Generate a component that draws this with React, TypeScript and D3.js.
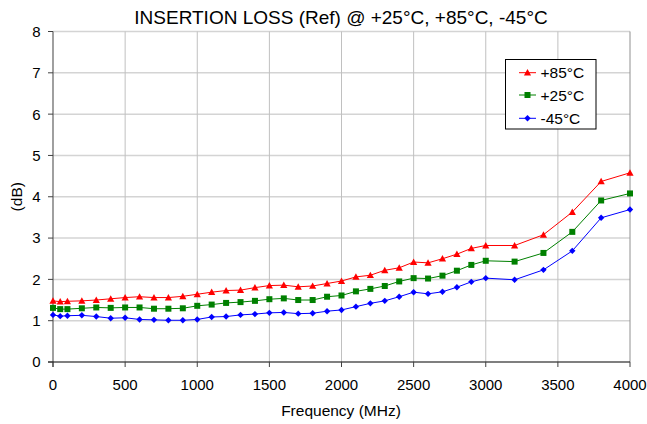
import React from "react";
import * as d3 from "d3";

const freqs = [0, 50, 100, 200, 300, 400, 500, 600, 700, 800, 900, 1000, 1100, 1200, 1300, 1400, 1500, 1600, 1700, 1800, 1900, 2000, 2100, 2200, 2300, 2400, 2500, 2600, 2700, 2800, 2900, 3000, 3200, 3400, 3600, 3800, 4000];

const loss85 = [1.48, 1.46, 1.47, 1.48, 1.50, 1.53, 1.56, 1.58, 1.56, 1.56, 1.59, 1.64, 1.69, 1.73, 1.74, 1.80, 1.85, 1.86, 1.82, 1.84, 1.90, 1.96, 2.06, 2.10, 2.22, 2.28, 2.42, 2.40, 2.50, 2.61, 2.75, 2.82, 2.82, 3.08, 3.63, 4.37, 4.58];
const loss25 = [1.31, 1.28, 1.28, 1.30, 1.32, 1.31, 1.32, 1.32, 1.29, 1.29, 1.30, 1.36, 1.39, 1.43, 1.45, 1.48, 1.52, 1.54, 1.50, 1.50, 1.58, 1.61, 1.71, 1.77, 1.84, 1.95, 2.03, 2.02, 2.09, 2.21, 2.35, 2.45, 2.43, 2.64, 3.15, 3.91, 4.08];
const lossM45 = [1.14, 1.11, 1.12, 1.13, 1.10, 1.06, 1.07, 1.03, 1.02, 1.01, 1.01, 1.03, 1.09, 1.10, 1.14, 1.16, 1.19, 1.20, 1.17, 1.18, 1.23, 1.26, 1.34, 1.42, 1.48, 1.58, 1.69, 1.65, 1.70, 1.81, 1.94, 2.03, 1.99, 2.23, 2.69, 3.49, 3.69];

const xTicks = [0, 500, 1000, 1500, 2000, 2500, 3000, 3500, 4000];
const yTicks = [0, 1, 2, 3, 4, 5, 6, 7, 8];

const seriesNames = ["+85°C", "+25°C", "-45°C"];
const seriesColors = ["#ff0000", "#008000", "#0000ff"];
const seriesShapes = ["triangle", "square", "diamond"];

const W = 647, H = 424;
const left = 53, right = 630, top = 31.5, bottom = 362;
const font = "Arial, 'Liberation Sans', sans-serif";

function Marker({ shape, x, y, color }: { shape: string; x: number; y: number; color: string }) {
  if (shape === "triangle") {
    const s = 3.6;
    return <path d={`M${x},${y - s}L${x + s},${y + s * 0.8}L${x - s},${y + s * 0.8}Z`} fill={color} />;
  }
  if (shape === "square") {
    const s = 3;
    return <rect x={x - s} y={y - s} width={2 * s} height={2 * s} fill={color} />;
  }
  const s = 3.2;
  return <path d={`M${x},${y - s}L${x + s},${y}L${x},${y + s}L${x - s},${y}Z`} fill={color} />;
}

export default function App() {
  const x = d3.scaleLinear().domain([0, 4000]).range([left, right]);
  const y = d3.scaleLinear().domain([0, 8]).range([bottom, top]);
  const data = [loss85, loss25, lossM45];
  const line = d3.line<number>().x((_, i) => x(freqs[i])).y((d) => y(d));

  return (
    <svg width={W} height={H} style={{ position: "absolute", left: 0, top: 0 }} fontFamily={font}>
      <rect width={W} height={H} fill="#fff" />
      {yTicks.slice(1).map((t) => (
        <line key={"h" + t} x1={left} x2={right} y1={y(t)} y2={y(t)} stroke="#d4d4d4" strokeWidth={1.5} />
      ))}
      {xTicks.slice(1).map((t) => (
        <line key={"v" + t} x1={x(t)} x2={x(t)} y1={top} y2={bottom} stroke={t === 4000 ? "#909090" : "#c0c0c0"} strokeWidth={1} />
      ))}
      {/* axes */}
      <line x1={left} x2={left} y1={top} y2={bottom + 5} stroke="#606060" strokeWidth={1.2} />
      <line x1={left - 5} x2={right} y1={bottom} y2={bottom} stroke="#000" strokeWidth={1.2} />
      {yTicks.map((t) => (
        <g key={"yt" + t}>
          <line x1={left - 5} x2={left} y1={y(t)} y2={y(t)} stroke="#404040" />
          <text x={left - 12.5} y={y(t)} dy="0.36em" textAnchor="end" fontSize={15}>{t}</text>
        </g>
      ))}
      {xTicks.map((t) => (
        <g key={"xt" + t}>
          <line x1={x(t)} x2={x(t)} y1={bottom} y2={bottom + 5} stroke="#404040" />
          <text x={x(t)} y={bottom + 28} textAnchor="middle" fontSize={15}>{t}</text>
        </g>
      ))}
      {/* series */}
      {data.map((vals, si) => (
        <g key={"s" + si}>
          <path d={line(vals) || ""} fill="none" stroke={seriesColors[si]} strokeWidth={1} />
          {vals.map((v, i) => (
            <Marker key={i} shape={seriesShapes[si]} x={x(freqs[i])} y={y(v)} color={seriesColors[si]} />
          ))}
        </g>
      ))}
      {/* legend */}
      <rect x={505.5} y={59.5} width={90.5} height={69.5} fill="#fff" stroke="#000" strokeWidth={1} />
      {seriesNames.map((n, i) => {
        const ly = [72.7, 95, 118.3][i];
        return (
          <g key={"l" + i}>
            <line x1={519} x2={536} y1={ly} y2={ly} stroke={seriesColors[i]} strokeWidth={1} />
            <Marker shape={seriesShapes[i]} x={527.5} y={ly} color={seriesColors[i]} />
            <text x={540.5} y={ly} dy="0.36em" fontSize={15.5}>{n}</text>
          </g>
        );
      })}
      {/* titles */}
      <text x={341} y={24} textAnchor="middle" fontSize={19}>INSERTION LOSS (Ref) @ +25°C, +85°C, -45°C</text>
      <text x={341} y={416} textAnchor="middle" fontSize={15.5}>Frequency (MHz)</text>
      <text transform={`translate(21.5,${(top + bottom) / 2}) rotate(-90)`} textAnchor="middle" fontSize={15.5}>(dB)</text>
    </svg>
  );
}
